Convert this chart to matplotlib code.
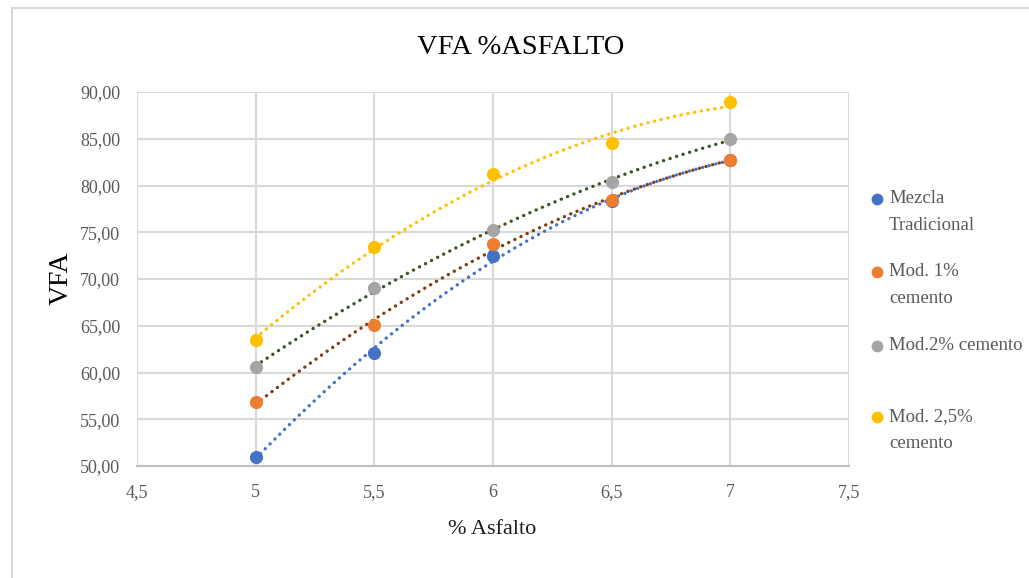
import numpy as np
import matplotlib
matplotlib.use("Agg")
import matplotlib.pyplot as plt
from matplotlib.lines import Line2D
from matplotlib.patches import Rectangle
from matplotlib.ticker import FuncFormatter

plt.rcParams['font.family'] = ['Liberation Serif', 'DejaVu Serif']

asfalto = [5.0, 5.5, 6.0, 6.5, 7.0]
mezcla_tradicional = [50.96, 62.10, 72.50, 78.30, 82.70]
mod_1 = [56.80, 65.10, 73.70, 78.45, 82.75]
mod_2 = [60.55, 69.00, 75.20, 80.40, 85.00]
mod_25 = [63.50, 73.40, 81.20, 84.50, 88.90]

series_labels = ["Mezcla\nTradicional", "Mod. 1%\ncemento", "Mod.2% cemento", "Mod. 2,5%\ncemento"]
series_values = [mezcla_tradicional, mod_1, mod_2, mod_25]
marker_colors = ["#4472C4", "#ED7D31", "#A5A5A5", "#FFC000"]
trend_colors = ["#4472C4", "#843C0C", "#375623", "#FFC000"]

W, H = 1029, 578
fig = plt.figure(figsize=(W / 100, H / 100), dpi=100)
fig.add_artist(Rectangle((12 / W, -0.01), 1.0, 1 - 8 / H + 0.01, transform=fig.transFigure,
                         fill=False, edgecolor="#D9D9D9", linewidth=1.5))

ax = fig.add_axes([137 / W, 1 - 466 / H, (849 - 137) / W, (466 - 92) / H])

x = np.array(asfalto)
xs = np.linspace(5.0, 7.0, 200)
for vals, mc, tc in zip(series_values, marker_colors, trend_colors):
    coef = np.polyfit(x, np.array(vals), 2)
    ax.plot(xs, np.polyval(coef, xs), linestyle=(0, (0.05, 2.0)), color=tc, linewidth=2.4,
            dash_capstyle='round', zorder=3)
    ax.plot(x, vals, 'o', color=mc, markersize=9.5, zorder=4, markeredgewidth=0)

ax.set_xlim(4.5, 7.5)
ax.set_ylim(50, 90)
ax.set_xticks(np.arange(4.5, 7.51, 0.5))
ax.set_yticks(np.arange(50, 90.1, 5))
ax.xaxis.set_major_formatter(FuncFormatter(lambda v, p: (f"{v:g}").replace('.', ',')))
ax.yaxis.set_major_formatter(FuncFormatter(lambda v, p: f"{v:.2f}".replace('.', ',')))
ax.grid(True, color="#D9D9D9", linewidth=1.5)
ax.set_axisbelow(True)
for s in ["top", "right", "left"]:
    ax.spines[s].set_visible(False)
ax.spines["bottom"].set_color("#BFBFBF")
ax.spines["bottom"].set_linewidth(1.5)
ax.tick_params(axis='both', length=0, labelsize=13, labelcolor="#595959")
ax.tick_params(axis='y', pad=12)
ax.tick_params(axis='x', pad=13)

fig.text(521 / W, 1 - 48 / H, "VFA %ASFALTO", ha='center', va='center', fontsize=20.5, color="#000000")
fig.text(61 / W, 1 - 278 / H, "VFA", ha='center', va='center', rotation=90, fontsize=20, color="#000000")
fig.text(492 / W, 1 - 530 / H, "% Asfalto", ha='center', va='center', fontsize=16, color="#1a1a1a")

legend_y = [199, 272, 346, 417]
for lab, mc, yy in zip(series_labels, marker_colors, legend_y):
    fig.add_artist(Line2D([877 / W], [1 - yy / H], marker='o', color=mc, markersize=8.5,
                          markeredgewidth=0, transform=fig.transFigure))
    fig.text(889 / W, 1 - (yy - 9) / H, lab, ha='left', va='top', fontsize=13.5,
             color="#595959", linespacing=1.75)

fig.savefig("out.png", dpi=100)
